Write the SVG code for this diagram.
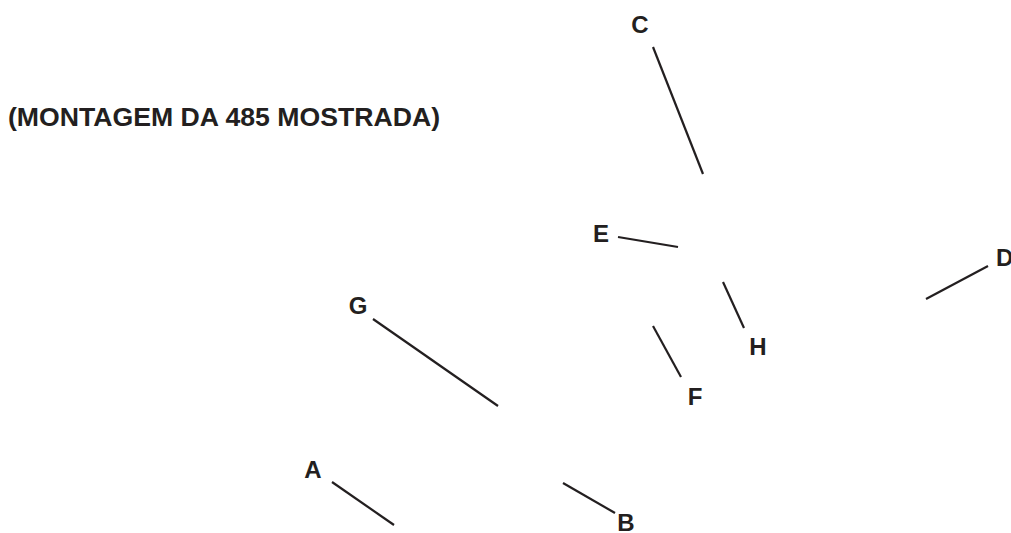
<svg xmlns="http://www.w3.org/2000/svg" width="1011" height="533" viewBox="0 0 1011 533">
<style>
text{font-family:"Liberation Sans",Arial,sans-serif;font-weight:bold;fill:#231f20}
.lbl{font-size:24px}
.title{font-size:26px}
#connectors line{stroke:#231f20;stroke-width:2.2;stroke-linecap:butt}
</style>
<rect width="1011" height="533" fill="#ffffff"/>
<text class="title" x="8" y="126" textLength="432" lengthAdjust="spacingAndGlyphs">(MONTAGEM DA 485 MOSTRADA)</text>
<g id="connectors">
<line x1="653" y1="47" x2="703" y2="174"/>
<line x1="618" y1="237" x2="678" y2="247"/>
<line x1="723" y1="282" x2="744" y2="328"/>
<line x1="653" y1="326" x2="681" y2="377"/>
<line x1="926" y1="299" x2="988" y2="266"/>
<line x1="373" y1="319" x2="498" y2="406"/>
<line x1="332" y1="482" x2="394" y2="525"/>
<line x1="563" y1="483" x2="615" y2="513"/>
</g>
<g id="C"><text class="lbl" x="640" y="33" text-anchor="middle">C</text></g>
<g id="E"><text class="lbl" x="601" y="242" text-anchor="middle">E</text></g>
<g id="H"><text class="lbl" x="758" y="355" text-anchor="middle">H</text></g>
<g id="F"><text class="lbl" x="695" y="405" text-anchor="middle">F</text></g>
<g id="D"><text class="lbl" x="996" y="266">D</text></g>
<g id="G"><text class="lbl" x="358" y="314" text-anchor="middle">G</text></g>
<g id="A"><text class="lbl" x="313" y="478" text-anchor="middle">A</text></g>
<g id="B"><text class="lbl" x="626" y="531" text-anchor="middle">B</text></g>
</svg>
